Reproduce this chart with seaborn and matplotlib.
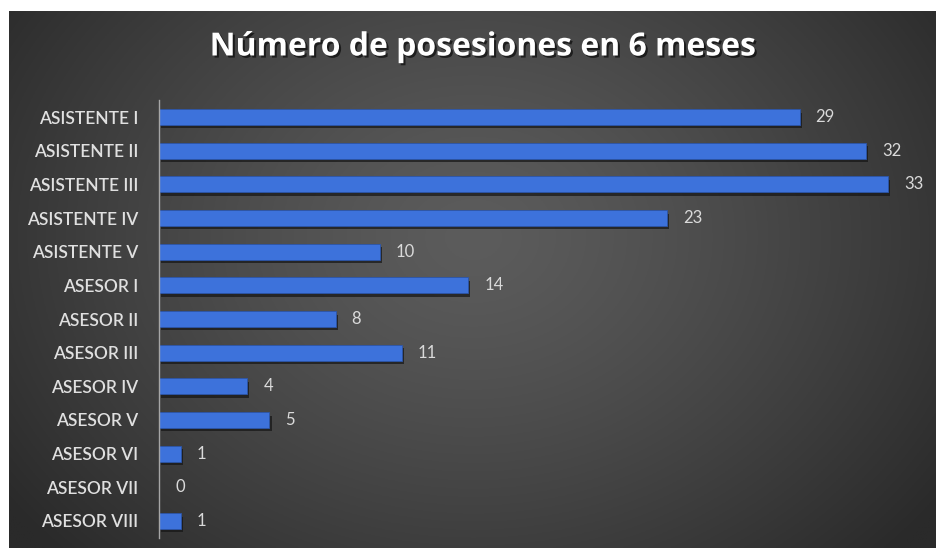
import numpy as np
import pandas as pd
import matplotlib
matplotlib.use("Agg")
import matplotlib.pyplot as plt
import matplotlib.patheffects as pe
import seaborn as sns

categories = ["ASISTENTE I", "ASISTENTE II", "ASISTENTE III", "ASISTENTE IV",
              "ASISTENTE V", "ASESOR I", "ASESOR II", "ASESOR III", "ASESOR IV",
              "ASESOR V", "ASESOR VI", "ASESOR VII", "ASESOR VIII"]
values = [29, 32, 33, 23, 10, 14, 8, 11, 4, 5, 1, 0, 1]
title = "Número de posesiones en 6 meses"

df = pd.DataFrame({"cargo": categories, "n": values})

sns.set_theme(style="white")
plt.rcParams["font.family"] = ["Open Sans", "DejaVu Sans"]

W, H = 936, 548
fig = plt.figure(figsize=(W / 100, H / 100), dpi=100, facecolor="white")

# background panel with radial gradient
bg = fig.add_axes([9 / W, 0, (W - 9) / W, (H - 11) / H])
ny, nx = 300, 500
yy, xx = np.mgrid[0:ny, 0:nx]
cx, cy = nx * 0.50, ny * 0.42
r = np.sqrt(((xx - cx) / (nx * 0.62)) ** 2 + ((yy - cy) / (ny * 0.85)) ** 2)
r = np.clip(r, 0, 1)
lo, hi = np.array([0x2a, 0x2a, 0x2a]) / 255, np.array([0x5c, 0x5c, 0x5c]) / 255
img = hi[None, None, :] * (1 - r[..., None] ** 1.3) + lo[None, None, :] * (r[..., None] ** 1.3)
bg.imshow(img, aspect="auto", extent=[0, 1, 0, 1], origin="upper")
bg.set_axis_off()

# main axes
px_per_unit = (888 - 159) / 33
left_px, right_px = 159, 925
top_px, bot_px = 100.2, 537.8
ax = fig.add_axes([left_px / W, 1 - bot_px / H, (right_px - left_px) / W, (bot_px - top_px) / H])
ax.patch.set_alpha(0)

sns.barplot(data=df, x="n", y="cargo", order=categories, color="#3d72db",
            width=0.47, ax=ax, saturation=1, edgecolor="#2c55a8", linewidth=0.6)
for p in ax.patches:
    p.set_path_effects([pe.SimplePatchShadow(offset=(1.5, -2.5), shadow_rgbFace="#151515", alpha=0.7),
                        pe.Normal()])

ax.set_xlim(0, (right_px - left_px) / px_per_unit)
ax.set_ylim(len(categories) - 0.5, -0.5)
ax.set_xlabel("")
ax.set_ylabel("")
ax.set_xticks([])
for s in ["top", "right", "bottom"]:
    ax.spines[s].set_visible(False)
ax.spines["left"].set_color("#a6a6a6")
ax.spines["left"].set_linewidth(1.0)
ax.tick_params(axis="y", length=0, pad=15, labelsize=12.5, labelcolor="#e0e0e0")
for lab in ax.get_yticklabels():
    lab.set_fontfamily(["Lato", "DejaVu Sans"])
    lab.set_fontweight("semibold")

for i, v in enumerate(values):
    ax.text(v + 16 / px_per_unit, i, str(v), va="center", ha="left",
            color="#dadada", fontsize=12, family=["Lato", "DejaVu Sans"])

fig.text(483 / W, 1 - 47 / H, title, ha="center", va="center", color="white",
         fontsize=23, fontweight="bold",
         path_effects=[pe.withSimplePatchShadow(offset=(1.5, -1.5), shadow_rgbFace="black", alpha=0.6)])

fig.savefig("out.png", dpi=100, facecolor="white")
